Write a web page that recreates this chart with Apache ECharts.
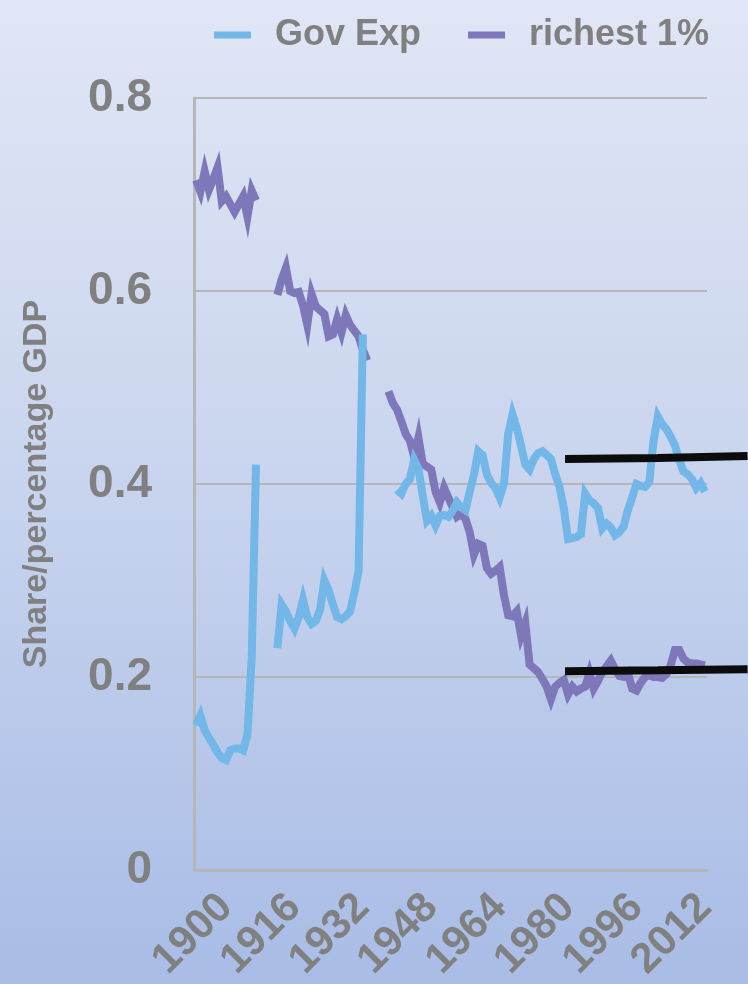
<!DOCTYPE html>
<html>
<head>
<meta charset="utf-8">
<script src="https://cdn.jsdelivr.net/npm/echarts@6/dist/echarts.min.js"></script>
<style>
  html, body { margin: 0; padding: 0; width: 748px; height: 984px; overflow: hidden; }
  #chart { width: 748px; height: 984px; }
</style>
</head>
<body>
<div id="chart"></div>
<script>
// Years 1900..2019, one value per year; null marks a year with no data.
const years = [];
for (let y = 1900; y <= 2019; y++) years.push(y);

// Government expenditure, share of GDP
const govExp = [
  0.150, 0.160, 0.145, 0.137, 0.130, 0.122, 0.116, 0.114, 0.124, 0.126,   // 1900-1909
  0.126, 0.124, 0.140, 0.220, 0.420, null, null, null, null, 0.230,       // 1910-1919
  0.275, 0.268, 0.258, 0.250, 0.262, 0.280, 0.262, 0.255, 0.258, 0.270,   // 1920-1929
  0.300, 0.290, 0.275, 0.262, 0.260, 0.263, 0.268, 0.287, 0.310, 0.555,   // 1930-1939
  null, null, null, null, null, null, null, 0.394, 0.390, 0.400,          // 1940-1949
  0.405, 0.425, 0.416, 0.388, 0.362, 0.367, 0.357, 0.367, 0.368, 0.366,   // 1950-1959
  0.372, 0.381, 0.376, 0.373, 0.392, 0.410, 0.434, 0.430, 0.410, 0.401,   // 1960-1969
  0.396, 0.386, 0.400, 0.452, 0.472, 0.458, 0.440, 0.420, 0.415, 0.426,   // 1970-1979
  0.432, 0.434, 0.430, 0.426, 0.410, 0.397, 0.375, 0.343, 0.344, 0.345,   // 1980-1989
  0.348, 0.390, 0.383, 0.380, 0.375, 0.354, 0.359, 0.355, 0.347, 0.350,   // 1990-1999
  0.356, 0.373, 0.386, 0.400, 0.398, 0.397, 0.402, 0.445, 0.470, 0.462,   // 2000-2009
  0.457, 0.449, 0.440, 0.425, 0.413, 0.410, 0.405, 0.396, 0.401, 0.392    // 2010-2019
];

// Share held by the richest 1%
const richest1 = [
  0.715, 0.703, 0.724, 0.705, 0.716, 0.728, 0.693, 0.698, 0.690, 0.682,   // 1900-1909
  0.690, 0.698, 0.677, 0.704, 0.694, null, null, null, null, 0.596,       // 1910-1919
  0.612, 0.624, 0.600, 0.598, 0.599, 0.585, 0.565, 0.597, 0.584, 0.580,   // 1920-1929
  0.576, 0.553, 0.555, 0.571, 0.557, 0.575, 0.565, 0.559, 0.553, 0.539,   // 1930-1939
  0.528, null, null, null, null, 0.496, 0.484, 0.477, 0.465, 0.452,       // 1940-1949
  0.445, 0.428, 0.448, 0.421, 0.418, 0.415, 0.392, 0.381, 0.396, 0.386,   // 1950-1959
  0.376, 0.366, 0.369, 0.364, 0.350, 0.327, 0.338, 0.336, 0.313, 0.307,   // 1960-1969
  0.310, 0.314, 0.285, 0.264, 0.263, 0.268, 0.243, 0.256, 0.213, 0.209,   // 1970-1979
  0.205, 0.198, 0.190, 0.177, 0.190, 0.194, 0.197, 0.182, 0.190, 0.185,   // 1980-1989
  0.188, 0.190, 0.204, 0.188, 0.196, 0.205, 0.211, 0.217, 0.208, 0.201,   // 1990-1999
  0.200, 0.204, 0.188, 0.186, 0.194, 0.200, 0.202, 0.200, 0.200, 0.199,   // 2000-2009
  0.203, 0.212, 0.228, 0.228, 0.219, 0.215, 0.214, 0.214, 0.213, 0.212    // 2010-2019
];

// Hand-drawn level marks (marker strokes running past the plot edge)
const markYears = [1986.3, 2008, 2029];
const markUpper = [0.426, 0.427, 0.429];
const markLower = [0.206, 0.207, 0.208];

// Axis settings
const yTicks = { min: 0, max: 0.8, step: 0.2 };
const xTicks = { first: 1900, last: 2012, step: 16 };
const xRange = { min: 1899.5, max: 2019.5 };
const markRange = { min: 1899.5, max: 2029.1 };

const FONT = '"Liberation Sans", Arial, sans-serif';
const GREY = '#808080';
const GRID_GREY = '#b6b6b6';
const BLUE = '#72b7e8';
const PURPLE = '#7e77ba';

const pairs = (xs, vs) => xs.map((x, i) => [x, vs[i]]);

const chart = echarts.init(document.getElementById('chart'), null, { renderer: 'canvas' });

const hiddenAxis = {
  axisLine: { show: false },
  axisTick: { show: false },
  axisLabel: { show: false },
  splitLine: { show: false }
};

chart.setOption({
  animation: false,
  backgroundColor: new echarts.graphic.LinearGradient(0, 0, 0, 1, [
    { offset: 0, color: '#e0e6f5' },
    { offset: 0.5, color: '#c8d4ee' },
    { offset: 1, color: '#a8bce6' }
  ]),
  legend: {
    left: 209,
    top: 12,
    width: 535,
    icon: 'rect',
    itemWidth: 37,
    itemHeight: 7,
    itemGap: 47,
    data: ['Gov Exp', 'richest 1%'],
    textStyle: {
      fontFamily: FONT,
      fontWeight: 'bold',
      fontSize: 36,
      color: GREY,
      padding: [0, 0, 0, 19]
    }
  },
  grid: [
    { left: 194, right: 41, top: 98, bottom: 114 },
    { left: 226, right: 43, top: 98, bottom: 114 },
    { left: 194, right: 0, top: 98, bottom: 114 }
  ],
  xAxis: [
    {
      type: 'value',
      gridIndex: 0,
      min: xRange.min,
      max: xRange.max,
      axisLine: { show: true, lineStyle: { color: GRID_GREY, width: 3 } },
      axisTick: { show: false },
      axisLabel: { show: false },
      splitLine: { show: false }
    },
    {
      type: 'value',
      gridIndex: 1,
      min: xTicks.first,
      max: xTicks.last,
      interval: xTicks.step,
      axisLine: { show: false },
      axisTick: { show: false },
      splitLine: { show: false },
      axisLabel: {
        rotate: 45,
        margin: 32,
        fontFamily: FONT,
        fontWeight: 'bold',
        fontSize: 42,
        color: GREY,
        formatter: v => String(Math.round(v))
      }
    },
    Object.assign({ type: 'value', gridIndex: 2, min: markRange.min, max: markRange.max }, hiddenAxis)
  ],
  yAxis: [
    {
      type: 'value',
      gridIndex: 0,
      min: yTicks.min,
      max: yTicks.max,
      interval: yTicks.step,
      name: 'Share/percentage GDP',
      nameLocation: 'middle',
      nameGap: 140,
      nameTextStyle: {
        fontFamily: FONT,
        fontWeight: 'bold',
        fontSize: 34,
        color: GREY
      },
      axisLine: { show: true, lineStyle: { color: GRID_GREY, width: 3 } },
      axisTick: { show: false },
      axisLabel: {
        margin: 42,
        fontFamily: FONT,
        fontWeight: 'bold',
        fontSize: 46,
        color: GREY,
        formatter: v => (v === 0 ? '0' : v.toFixed(1))
      },
      splitLine: { show: true, lineStyle: { color: GRID_GREY, width: 2 } }
    },
    Object.assign({ type: 'value', gridIndex: 1, min: 0, max: 1 }, hiddenAxis),
    Object.assign({ type: 'value', gridIndex: 2, min: yTicks.min, max: yTicks.max }, hiddenAxis)
  ],
  series: [
    {
      name: 'richest 1%',
      type: 'line',
      xAxisIndex: 0,
      yAxisIndex: 0,
      data: pairs(years, richest1),
      showSymbol: false,
      connectNulls: false,
      color: PURPLE,
      lineStyle: { color: PURPLE, width: 8, join: 'miter', cap: 'butt' },
      z: 2
    },
    {
      name: 'Gov Exp',
      type: 'line',
      xAxisIndex: 0,
      yAxisIndex: 0,
      data: pairs(years, govExp),
      showSymbol: false,
      connectNulls: false,
      color: BLUE,
      lineStyle: { color: BLUE, width: 8, join: 'miter', cap: 'butt' },
      z: 3
    },
    {
      name: 'mark-upper',
      type: 'line',
      xAxisIndex: 2,
      yAxisIndex: 2,
      data: pairs(markYears, markUpper),
      showSymbol: false,
      silent: true,
      lineStyle: { color: '#0c0c0c', width: 8 },
      z: 5
    },
    {
      name: 'mark-lower',
      type: 'line',
      xAxisIndex: 2,
      yAxisIndex: 2,
      data: pairs(markYears, markLower),
      showSymbol: false,
      silent: true,
      lineStyle: { color: '#0c0c0c', width: 8 },
      z: 5
    }
  ]
});
</script>
</body>
</html>
